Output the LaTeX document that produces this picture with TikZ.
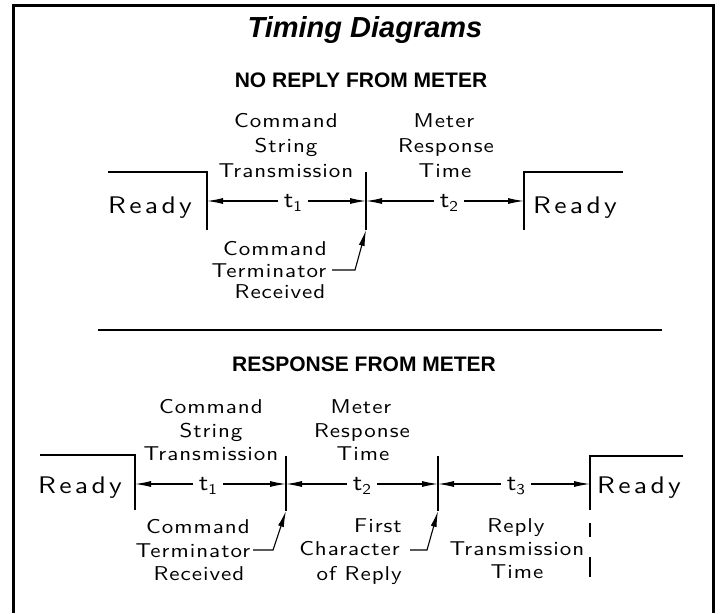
\documentclass[tikz,border=0pt]{standalone}
\usepackage{fontspec}
\usetikzlibrary{arrows.meta}
\newfontfamily\arialf{Liberation Sans}
\newfontfamily\cadf[FakeStretch=1.15,LetterSpace=5]{lmsans10-regular.otf}
\newfontfamily\cadw[FakeStretch=1.15,LetterSpace=14]{lmsans10-regular.otf}
\newcommand\tsub[2]{#1\raisebox{-4.5pt}{\fontsize{15}{15}\selectfont #2}}
\tikzset{
  frameline/.style={line width=3pt},
  sepline/.style={line width=2.2pt},
  titletxt/.style={font=\arialf\bfseries\itshape\fontsize{29}{29}\selectfont, inner sep=0pt, anchor=base},
  headtxt/.style={font=\arialf\bfseries\fontsize{21}{21}\selectfont, inner sep=0pt, anchor=base},
  cadtxt/.style={font=\cadf\fontsize{20}{20}\selectfont, inner sep=0pt, anchor=base},
  cadright/.style={cadtxt, anchor=base east},
  readytxt/.style={font=\cadw\fontsize{24}{24}\selectfont, inner sep=0pt, anchor=base},
  tlab/.style={font=\cadf\fontsize{23}{23}\selectfont, inner xsep=6pt, inner ysep=0pt},
  wave/.style={line width=1.2pt},
  dimarrow/.style={line width=1.1pt, -{Latex[length=16pt,width=6pt]}},
}
\begin{document}
\begin{tikzpicture}[x=1pt,y=-1pt]
\useasboundingbox (0,0) rectangle (720,613);
% frame
\draw[frameline] (13,613) -- (13,5) -- (713,5) -- (713,613);
% headings
\node[titletxt] (title) at (365,37) {Timing Diagrams};
\node[headtxt] (head1) at (361,87) {NO REPLY FROM METER};
\draw[sepline] (98,330) -- (662,330);
\node[headtxt] (head2) at (364,371) {RESPONSE FROM METER};

% ---------------- top diagram ----------------
\coordinate (TLa) at (108,172);
\coordinate (TLt) at (207,172);
\coordinate (TLb) at (207,230);
\coordinate (TMt) at (366,172);
\coordinate (TMb) at (366,230);
\coordinate (TRt) at (524,172);
\coordinate (TRb) at (524,230);
\coordinate (TRe) at (623,172);
\coordinate (A1) at (207,201);
\coordinate (A2) at (366,201);
\coordinate (A3) at (524,201);
\draw[wave] (TLa) -- (TLt) -- (TLb);
\draw[wave] (TMt) -- (TMb);
\draw[wave] (TRe) -- (TRt) -- (TRb);
\node[readytxt] (readyTL) at (150,213) {Ready};
\node[readytxt] (readyTR) at (575,213) {Ready};
\node[tlab] (tt1) at (293,203) {\tsub{t}{1}};
\node[tlab] (tt2) at (449,203) {\tsub{t}{2}};
\draw[dimarrow] (tt1.west |- A1) -- (A1);
\draw[dimarrow] (tt1.east |- A1) -- (A2);
\draw[dimarrow] (tt2.west |- A2) -- (A2);
\draw[dimarrow] (tt2.east |- A2) -- (A3);
\node[cadtxt] (cstT1) at (286,127) {Command};
\node[cadtxt] (cstT2) at (286,152) {String};
\node[cadtxt] (cstT3) at (286,177) {Transmission};
\node[cadtxt] (mrtT1) at (444,127) {Meter};
\node[cadtxt] (mrtT2) at (446,152) {Response};
\node[cadtxt] (mrtT3) at (445,177) {Time};
\node[cadtxt] (ctrT1) at (275,255) {Command};
\node[cadtxt] (ctrT2) at (269,277) {Terminator};
\node[cadtxt] (ctrT3) at (280,298) {Received};
\coordinate (LTa) at (332,270);
\coordinate (LTb) at (355,270);
\draw[dimarrow] (LTa) -- (LTb) -- (TMb);

% ---------------- bottom diagram ----------------
\coordinate (BLa) at (40,455);
\coordinate (BLt) at (135,455);
\coordinate (BLb) at (135,510);
\coordinate (BM1t) at (286,456);
\coordinate (BM1b) at (286,511);
\coordinate (BM2t) at (438,456);
\coordinate (BM2b) at (438,511);
\coordinate (BRt) at (590,456);
\coordinate (BRb) at (590,510);
\coordinate (BRe) at (683,456);
\coordinate (C1) at (135,484);
\coordinate (C2) at (286,484);
\coordinate (C3) at (438,484);
\coordinate (C4) at (590,484);
\draw[wave] (BLa) -- (BLt) -- (BLb);
\draw[wave] (BM1t) -- (BM1b);
\draw[wave] (BM2t) -- (BM2b);
\draw[wave] (BRe) -- (BRt) -- (BRb);
\draw[wave] (590,523) -- (590,537);
\draw[wave] (590,557) -- (590,577);
\node[readytxt] (readyBL) at (80,493) {Ready};
\node[readytxt] (readyBR) at (639,493) {Ready};
\node[tlab] (bt1) at (208,486) {\tsub{t}{1}};
\node[tlab] (bt2) at (362,486) {\tsub{t}{2}};
\node[tlab] (bt3) at (516,486) {\tsub{t}{3}};
\draw[dimarrow] (bt1.west |- C1) -- (C1);
\draw[dimarrow] (bt1.east |- C1) -- (C2);
\draw[dimarrow] (bt2.west |- C2) -- (C2);
\draw[dimarrow] (bt2.east |- C2) -- (C3);
\draw[dimarrow] (bt3.west |- C3) -- (C3);
\draw[dimarrow] (bt3.east |- C3) -- (C4);
\node[cadtxt] (cstB1) at (211,413) {Command};
\node[cadtxt] (cstB2) at (211,437) {String};
\node[cadtxt] (cstB3) at (211,460) {Transmission};
\node[cadtxt] (mrtB1) at (361,413) {Meter};
\node[cadtxt] (mrtB2) at (362,437) {Response};
\node[cadtxt] (mrtB3) at (363,460) {Time};
\node[cadtxt] (ctrB1) at (198,533) {Command};
\node[cadtxt] (ctrB2) at (193,557) {Terminator};
\node[cadtxt] (ctrB3) at (199,580) {Received};
\node[cadright] (fcrB1) at (402,532) {First};
\node[cadright] (fcrB2) at (400,555) {Character};
\node[cadright] (fcrB3) at (402,580) {of Reply};
\node[cadtxt] (rttB1) at (516,532) {Reply};
\node[cadtxt] (rttB2) at (517,555) {Transmission};
\node[cadtxt] (rttB3) at (517,578) {Time};
\coordinate (LB1a) at (253,550);
\coordinate (LB1b) at (273,550);
\coordinate (LB2a) at (410,550);
\coordinate (LB2b) at (427,550);
\draw[dimarrow] (LB1a) -- (LB1b) -- (BM1b);
\draw[dimarrow] (LB2a) -- (LB2b) -- (BM2b);
\end{tikzpicture}
\end{document}
